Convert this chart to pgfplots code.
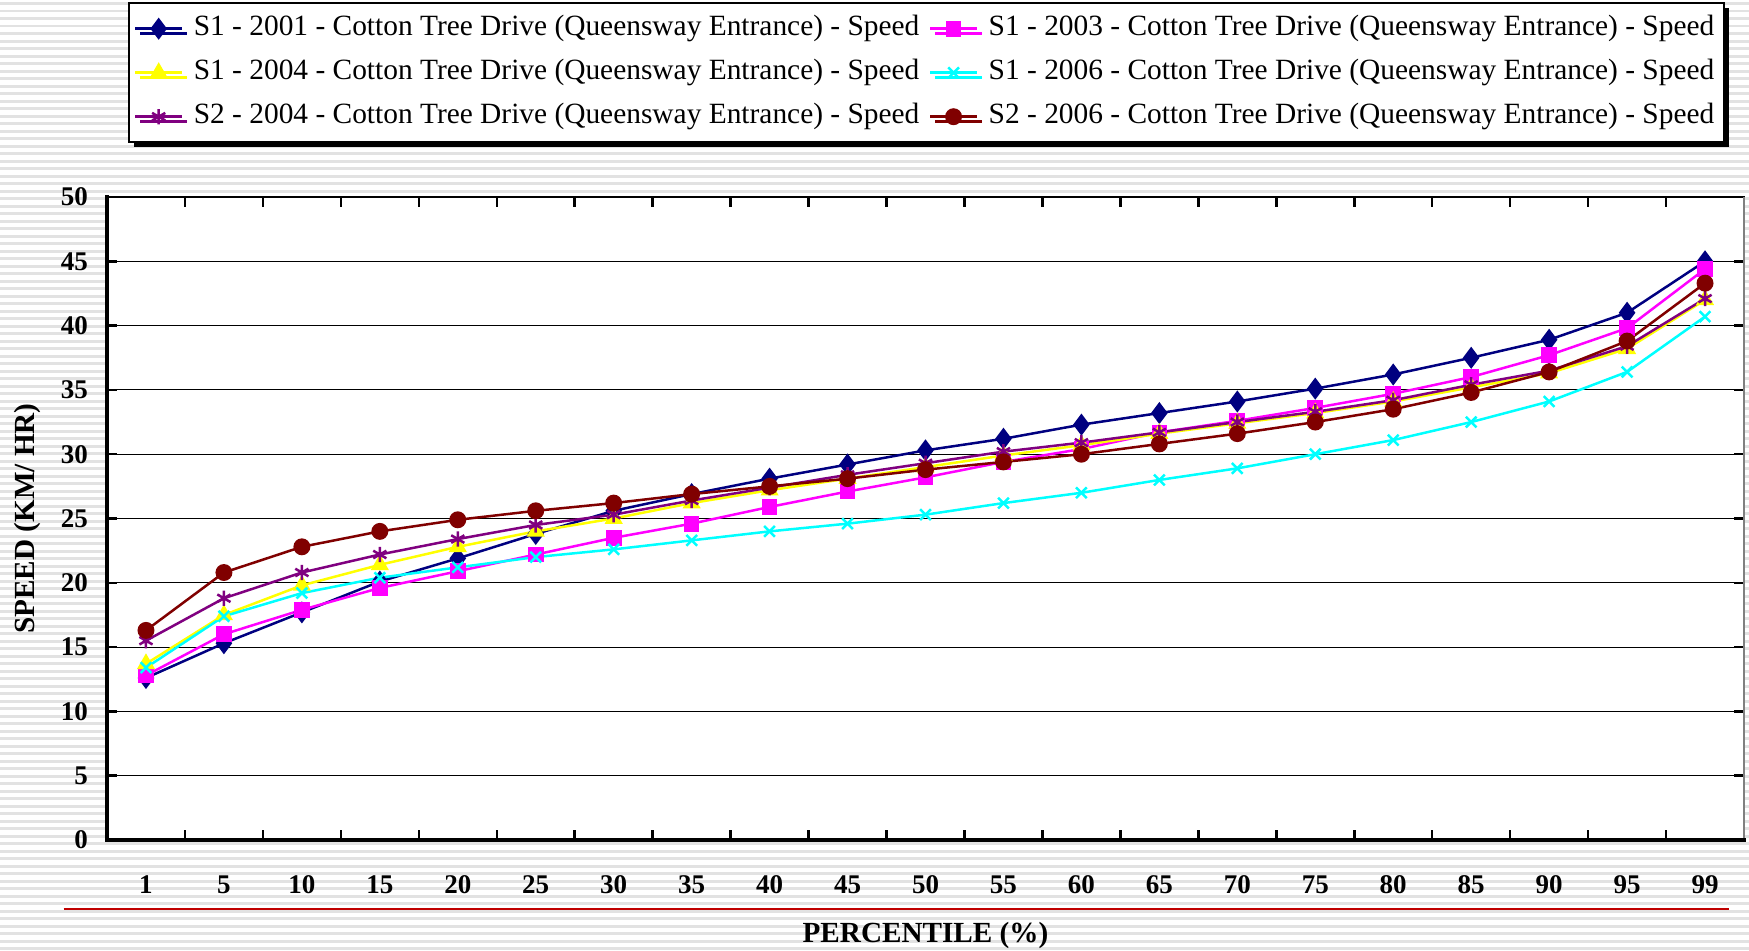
\documentclass[border=0pt]{standalone}
\usepackage{fontspec}
\setmainfont{Liberation Serif}
\usepackage{pgfplots}
\usepackage{pgfplotstable}
\pgfplotsset{compat=1.18}
\usetikzlibrary{shadows}

\definecolor{cNavy}{RGB}{0,0,128}
\definecolor{cMag}{RGB}{255,0,255}
\definecolor{cYel}{RGB}{255,255,0}
\definecolor{cCyan}{RGB}{0,255,255}
\definecolor{cPurp}{RGB}{128,0,128}
\definecolor{cMaroon}{RGB}{128,0,0}
\definecolor{stripe}{RGB}{226,226,226}
\definecolor{rule}{RGB}{192,0,0}

% speed (km/h) by percentile; idx 0..20 = 1,5,10,...,95,99
\pgfplotstableread{
idx sA sB sC sD sE sF
0  12.6 12.8 13.7 13.4 15.5 16.3
1  15.3 16.0 17.5 17.4 18.8 20.8
2  17.7 17.9 19.8 19.2 20.8 22.8
3  20.1 19.6 21.4 20.4 22.2 24.0
4  21.9 20.9 22.8 21.2 23.4 24.9
5  23.8 22.2 24.0 22.0 24.5 25.6
6  25.6 23.5 25.0 22.6 25.3 26.2
7  26.9 24.6 26.2 23.3 26.4 26.9
8  28.1 25.9 27.2 24.0 27.4 27.5
9  29.2 27.1 28.1 24.6 28.4 28.1
10 30.3 28.2 29.0 25.3 29.3 28.8
11 31.2 29.4 29.9 26.2 30.2 29.4
12 32.3 30.4 30.7 27.0 30.9 30.0
13 33.2 31.7 31.6 28.0 31.7 30.8
14 34.1 32.6 32.4 28.9 32.5 31.6
15 35.1 33.6 33.2 30.0 33.3 32.5
16 36.2 34.7 34.1 31.1 34.2 33.5
17 37.5 36.0 35.2 32.5 35.4 34.8
18 38.9 37.7 36.3 34.1 36.5 36.4
19 41.0 39.8 38.2 36.4 38.4 38.8
20 45.0 44.4 42.0 40.7 42.1 43.3
}\speeds

\begin{document}
\begin{tikzpicture}
% striped slide background
\fill[white] (-53.5pt,-55pt) rectangle (821pt,420pt);
\foreach \i in {0,...,126}{
  \fill[stripe] (-53.5pt,{-55pt+\i*3.75pt}) rectangle ++(874.5pt,1.3pt);
}
\begin{axis}[
  at={(0,0)}, anchor=south west,
  scale only axis, width=818.5pt, height=321.5pt,
  clip=false,
  axis background/.style={fill=white},
  xmin=-0.5, xmax=20.5, ymin=0, ymax=50,
  xtick={0,...,20},
  xticklabels={1,5,10,15,20,25,30,35,40,45,50,55,60,65,70,75,80,85,90,95,99},
  minor xtick={0.5,1.5,...,19.5},
  ytick={0,5,...,50},
  major x tick style={draw=none},
  tick align=inside,
  major tick length=5pt, minor tick length=5pt,
  every tick/.style={black, line width=1.25pt},
  ymajorgrids, grid style={black, line width=0.5pt},
  axis line style={line width=0.7pt},
  /pgf/number format/assume math mode=true,
  tick label style={font=\fontsize{13.5}{16}\selectfont\bfseries},
  xticklabel style={anchor=center, yshift=-22.3pt},
  yticklabel style={xshift=-6pt},
  xlabel={PERCENTILE (\%)},
  ylabel={SPEED (KM/ HR)},
  every axis x label/.style={at={(axis description cs:0.5,-0.1477)}, anchor=center,
    font=\fontsize{14.6}{17}\selectfont\bfseries},
  every axis y label/.style={at={(axis description cs:-0.0483,0.5)}, rotate=90, anchor=center,
    font=\fontsize{14.6}{17}\selectfont\bfseries},
  legend columns=2,
  legend image code/.code={\draw[mark repeat=2,mark phase=2] plot coordinates {(0pt,0pt) (11.75pt,0pt) (23.5pt,0pt)};},
  legend style={
    at={(axis description cs:0.0128,1.3033)}, anchor=north west,
    draw=black, line width=1pt, fill=white,
    drop shadow={shadow xshift=2.5pt, shadow yshift=-2.5pt, fill=black, opacity=1},
    font=\fontsize{14.7}{17}\selectfont,
    inner xsep=2.5pt, inner ysep=4pt,
    row sep=4.3pt,
    nodes={inner xsep=2.2pt, inner ysep=2pt, text height=10.5pt, text depth=3.2pt},
    /tikz/every odd column/.append style={column sep=3pt},
    /tikz/every even column/.append style={column sep=2.5pt},
  },
  every axis plot/.append style={line width=1.25pt, mark size=3.5pt, mark options={solid}},
]
\addplot[color=cNavy, mark=diamond*, mark size=4.5pt] table[x=idx, y=sA] {\speeds};
\addlegendentry{S1 - 2001 - Cotton Tree Drive (Queensway Entrance) - Speed}
\addplot[color=cMag, mark=square*, mark size=3.3pt] table[x=idx, y=sB] {\speeds};
\addlegendentry{S1 - 2003 - Cotton Tree Drive (Queensway Entrance) - Speed}
\addplot[color=cYel, mark=triangle*, mark size=4pt] table[x=idx, y=sC] {\speeds};
\addlegendentry{S1 - 2004 - Cotton Tree Drive (Queensway Entrance) - Speed}
\addplot[color=cCyan, mark=x, mark size=3.8pt] table[x=idx, y=sD] {\speeds};
\addlegendentry{S1 - 2006 - Cotton Tree Drive (Queensway Entrance) - Speed}
\addplot[color=cPurp, mark=asterisk, mark size=3.8pt] table[x=idx, y=sE] {\speeds};
\addlegendentry{S2 - 2004 - Cotton Tree Drive (Queensway Entrance) - Speed}
\addplot[color=cMaroon, mark=*, mark size=3.6pt] table[x=idx, y=sF] {\speeds};
\addlegendentry{S2 - 2006 - Cotton Tree Drive (Queensway Entrance) - Speed}
% heavier frame on the value and category axes, lighter on the right
\draw[gray, line width=0.8pt] (rel axis cs:1,0) -- (rel axis cs:1,1);
\draw[black, line width=2pt, line cap=rect] (rel axis cs:0,1) -- (rel axis cs:0,0) -- (rel axis cs:1,0);
\end{axis}
% rule between tick labels and axis title
\draw[rule, line width=0.7pt] (-21.7pt,-34.5pt) -- (811pt,-34.5pt);
\pgfresetboundingbox
\useasboundingbox (-53.5pt,-55pt) rectangle (821pt,420pt);
\end{tikzpicture}
\end{document}
